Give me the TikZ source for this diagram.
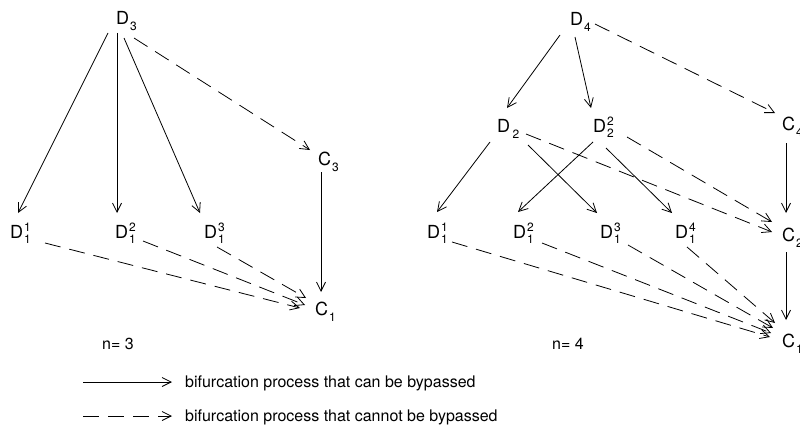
\documentclass[tikz,border=0pt]{standalone}
\usepackage{fontspec}
\setmainfont{TeX Gyre Heros}
\usetikzlibrary{arrows.meta,calc}
\newcommand\scrfont{\fontsize{12}{12}\selectfont}
\newcommand\lab[3]{#1\kern1pt\rlap{\raisebox{6.5pt}{\scrfont #2}}\raisebox{-5pt}{\scrfont #3}}
\newcommand\labs[2]{#1\kern1pt\raisebox{-6pt}{\scrfont #2}}
\begin{document}
\begin{tikzpicture}[x=1pt,y=-1pt,
  lbl/.style={anchor=base west, inner sep=0pt, font=\fontsize{18}{18}\selectfont},
  txt/.style={anchor=base west, inner sep=0pt, font=\fontsize{16}{16}\selectfont},
  sl/.style={line width=0.8pt, -{Straight Barb[length=9pt,width=9pt]}},
  dl/.style={sl, dash pattern=on 16pt off 9pt}]
\useasboundingbox (0,0) rectangle (800,428);
% ---------- left panel (n=3)
\node[lbl] (d3)  at (116,25)  {\labs{D}{3}};
\node[lbl] (d11) at (10,238)  {\lab{D}{1}{1}};
\node[lbl] (d12) at (115,238) {\lab{D}{2}{1}};
\node[lbl] (d13) at (204,238) {\lab{D}{3}{1}};
\node[lbl] (c3)  at (318,165) {\labs{C}{3}};
\node[lbl] (c1)  at (315,315) {\labs{C}{1}};
\node[txt] (n3)  at (102,349) {n= 3};
\draw[sl] ($(d3.base west)+(-8,8)$) -- ($(d11.base west)+(8,-25)$);
\draw[sl] ($(d3.base west)+(1,8)$) -- ($(d12.base west)+(2,-25)$);
\draw[sl] ($(d3.base west)+(8,13)$) -- ($(d13.base west)+(-4,-25)$);
\draw[dl] ($(d3.base west)+(18,13)$) -- ($(c3.base west)+(-8,-15)$);
\draw[sl] ($(c3.base west)+(3,7)$) -- ($(c1.base west)+(6,-23)$);
\draw[dl] ($(d11.base west)+(35,5)$) -- ($(c1.base west)+(-15,-7)$);
\draw[dl] ($(d12.base west)+(28,3)$) -- ($(c1.base west)+(-10,-10)$);
\draw[dl] ($(d13.base west)+(13,9)$) -- ($(c1.base west)+(-9,-17)$);
% ---------- right panel (n=4)
\node[lbl] (d4)   at (570,26)  {\labs{D}{4}};
\node[lbl] (d2)   at (497,132) {\labs{D\kern1.5pt}{2}};
\node[lbl] (d22)  at (593,132) {\lab{D}{2}{2}};
\node[lbl] (c4)   at (782,130) {\labs{C}{4}};
\node[lbl] (r11)  at (427,238) {\lab{D}{1}{1}};
\node[lbl] (r12)  at (513,238) {\lab{D}{2}{1}};
\node[lbl] (r13)  at (600,238) {\lab{D}{3}{1}};
\node[lbl] (r14)  at (675,238) {\lab{D}{4}{1}};
\node[lbl] (c2)   at (782,241) {\labs{C}{2}};
\node[lbl] (rc1)  at (782,347) {\labs{C}{1}};
\node[txt] (n4)   at (552,349) {n= 4};
\draw[sl] ($(d4.base west)+(-10,9)$) -- ($(d2.base west)+(10,-24)$);
\draw[sl] ($(d4.base west)+(5,11)$) -- ($(d22.base west)+(-2,-24)$);
\draw[dl] ($(d4.base west)+(25,-2)$) -- ($(c4.base west)+(-7,-17)$);
\draw[sl] ($(c4.base west)+(4,13)$) -- ($(c2.base west)+(4,-28)$);
\draw[sl] ($(c2.base west)+(4,11)$) -- ($(rc1.base west)+(4,-27)$);
\draw[sl] ($(d2.base west)+(-7,10)$) -- ($(r11.base west)+(10,-26)$);
\draw[sl] ($(d2.base west)+(31,13)$) -- ($(r13.base west)+(-3,-25)$);
\draw[dl] ($(d2.base west)+(29,2)$) -- ($(c2.base west)+(-10,-9)$);
\draw[sl] ($(d22.base west)+(0,10)$) -- ($(r12.base west)+(5,-26)$);
\draw[sl] ($(d22.base west)+(13,16)$) -- ($(r14.base west)+(-3,-25)$);
\draw[dl] ($(d22.base west)+(34,5)$) -- ($(c2.base west)+(-10,-19)$);
\draw[dl] ($(r11.base west)+(25,4)$) -- ($(rc1.base west)+(-12,-10)$);
\draw[dl] ($(r12.base west)+(29,5)$) -- ($(rc1.base west)+(-11,-14)$);
\draw[dl] ($(r13.base west)+(28,7)$) -- ($(rc1.base west)+(-9,-19)$);
\draw[dl] ($(r14.base west)+(12,9)$) -- ($(rc1.base west)+(-7,-24)$);
% ---------- legend
\coordinate (la1) at (83,382); \coordinate (la2) at (172,382);
\coordinate (lb1) at (83,416); \coordinate (lb2) at (172,416);
\draw[sl] (la1) -- (la2);
\draw[dl] (lb1) -- (lb2);
\node[txt] (t1) at (185,387) {bifurcation process that can be bypassed};
\node[txt] (t2) at (185,421) {bifurcation process that cannot be bypassed};
\end{tikzpicture}
\end{document}
